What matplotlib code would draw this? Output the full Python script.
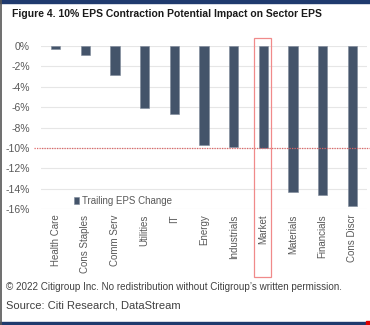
import matplotlib.pyplot as plt
from matplotlib.patches import Rectangle
from matplotlib.lines import Line2D
from matplotlib import font_manager

plt.rcParams['font.family'] = ['Liberation Sans', 'DejaVu Sans']

sectors = ['Health Care', 'Cons Staples', 'Comm Serv', 'Utilities', 'IT', 'Energy',
           'Industrials', 'Market', 'Materials', 'Financials', 'Cons Discr']
eps_change = [-0.3, -0.9, -2.8, -6.05, -6.7, -9.7, -9.95, -10.0, -14.35, -14.6, -15.7]
threshold = -10.0
yticks = [0, -2, -4, -6, -8, -10, -12, -14, -16]

W, H = 370, 325
fig = plt.figure(figsize=(W / 100, H / 100), dpi=100)
ax = fig.add_axes([41 / W, 1 - 209 / H, 326 / W, 163 / H])

x = range(len(sectors))
ax.bar(x, eps_change, width=0.31, color='#44546A', edgecolor='#7d8899',
       linewidth=0.4, label='Trailing EPS Change', zorder=3)

ax.set_xlim(-0.5, len(sectors) - 0.5)
ax.set_ylim(-16, 0)
ax.set_yticks(yticks)
ax.set_yticklabels([f'{v}%' for v in yticks])
ax.set_xticks(list(x))
ax.set_xticklabels(sectors, rotation=90, va='top')
ax.tick_params(axis='both', length=0, labelsize=7, labelcolor='#595959')
ax.tick_params(axis='y', pad=8, labelsize=7.5)
ax.tick_params(axis='x', pad=4)
ax.grid(axis='y', color='#e6e6e6', linewidth=0.8, zorder=0)
for sp in ax.spines.values():
    sp.set_visible(False)

# dotted -10% threshold running across the full width
ax.plot([-0.021, 1.01], [threshold, threshold], transform=ax.get_yaxis_transform(),
        color='#e06666', linestyle=(0, (1, 1)), linewidth=0.9, clip_on=False, zorder=4)

# highlight box around the Market column and its label
mi = sectors.index('Market')
ax.add_patch(Rectangle((mi - 0.31, -22.7), 0.58, 23.5, fill=False, edgecolor='#f08a8a',
                       linewidth=0.9, clip_on=False, zorder=5))

leg = ax.legend(loc='center left', bbox_to_anchor=(0.1, 0.05), frameon=False,
                fontsize=7, handlelength=0.6, handleheight=0.6, handletextpad=0.3,
                borderpad=0, borderaxespad=0)
for t in leg.get_texts():
    t.set_color('#595959')

fig.text(12 / W, 1 - 14 / H, 'Figure 4. 10% EPS Contraction Potential Impact on Sector EPS',
         fontsize=7.5, fontweight='bold', color='#1a1a1a', va='center', ha='left')

names = {f.name for f in font_manager.fontManager.ttflist}
narrow = 'Liberation Sans Narrow' if 'Liberation Sans Narrow' in names else None
if narrow:
    fig.text(6 / W, 1 - 287 / H,
             '\u00a9 2022 Citigroup Inc. No redistribution without Citigroup\u2019s written permission.',
             fontsize=8.6, family=[narrow, 'DejaVu Sans'], color='#404040',
             va='center', ha='left')
else:
    fig.text(6 / W, 1 - 287 / H,
             '\u00a9 2022 Citigroup Inc. No redistribution without Citigroup\u2019s written permission.',
             fontsize=7.1, color='#404040', va='center', ha='left')
fig.text(6 / W, 1 - 306 / H, 'Source: Citi Research, DataStream',
         fontsize=8, color='#404040', va='center', ha='left')

# frame: navy top and bottom rules, grey left edge
fig.add_artist(Rectangle((0, 1 - 2.5 / H), 1, 2.5 / H, transform=fig.transFigure,
                         color='#1f3a6e', zorder=10))
fig.add_artist(Rectangle((0, 1 / H), 1, 2 / H, transform=fig.transFigure,
                         color='#1f3a6e', zorder=10))
fig.add_artist(Rectangle((366 / W, 0), 4 / W, 4 / H, transform=fig.transFigure,
                         color='#e00000', zorder=11))
fig.add_artist(Line2D([0.7 / W, 0.7 / W], [0, 1], transform=fig.transFigure,
                      color='#555555', linewidth=1.2, zorder=10))

fig.savefig('out.png', dpi=100)
